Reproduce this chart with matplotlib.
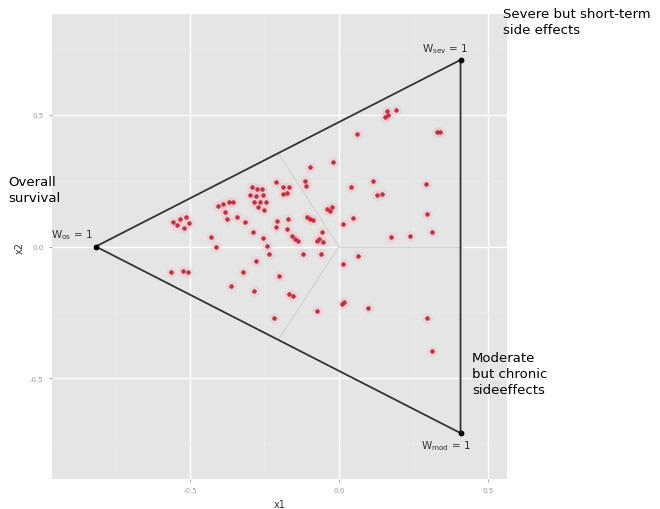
import numpy as np
import matplotlib
matplotlib.use("Agg")
import matplotlib.pyplot as plt

# triangle vertices (equilateral, side sqrt(2))
vert_names = ["os", "sev", "mod"]
vert_x = [-0.816, 0.408, 0.408]
vert_y = [0.0, 0.707, -0.707]

# observed weights projected onto the plane
pts_x = [-0.557, -0.534, -0.513, -0.503, -0.520, -0.544, -0.564, -0.523, -0.507,
         -0.430, -0.413, -0.406, -0.389, -0.369, -0.356, -0.383, -0.376, -0.342,
         -0.315, -0.362, -0.322, -0.285, -0.279, -0.289, -0.255, -0.242, -0.235,
         -0.292, -0.275, -0.258, -0.299, -0.279, -0.255, -0.285, -0.265, -0.245,
         -0.272, -0.252, -0.211, -0.188, -0.168, -0.114, -0.111, -0.097, -0.188,
         -0.174, -0.208, -0.211, -0.171, -0.174, -0.107, -0.097, -0.087, -0.040,
         -0.030, -0.023, 0.013, 0.047, -0.020, -0.158, -0.148, -0.138, -0.057,
         -0.067, -0.054, -0.074, -0.121, -0.060, 0.064, 0.013, -0.201, -0.168,
         -0.154, -0.218, 0.010, 0.017, -0.074, 0.097, 0.295, 0.312, 0.161, 0.164,
         0.154, 0.191, 0.060, 0.329, 0.339, 0.114, 0.040, 0.128, 0.144, 0.292,
         0.295, 0.174, 0.238, 0.312]
pts_y = [0.093, 0.104, 0.112, 0.089, 0.070, 0.081, -0.097, -0.093, -0.097,
         0.036, -0.002, 0.153, 0.161, 0.169, 0.169, 0.131, 0.104, 0.112,
         0.093, -0.150, -0.097, -0.169, -0.055, 0.055, 0.032, 0.002, -0.028,
         0.225, 0.218, 0.218, 0.195, 0.191, 0.195, 0.169, 0.169, 0.169,
         0.150, 0.138, 0.244, 0.225, 0.225, 0.248, 0.229, 0.301, 0.199,
         0.203, 0.097, 0.074, 0.104, 0.066, 0.112, 0.104, 0.100, 0.142,
         0.134, 0.150, 0.085, 0.108, 0.320, 0.040, 0.028, 0.021, 0.055,
         0.028, 0.017, 0.021, -0.028, -0.028, -0.036, -0.066, -0.112, -0.180,
         -0.188, -0.271, -0.218, -0.210, -0.244, -0.233, -0.271, -0.396, 0.513, 0.498,
         0.491, 0.517, 0.426, 0.434, 0.434, 0.248, 0.225, 0.195, 0.199, 0.237,
         0.123, 0.036, 0.040, 0.055]

fig = plt.figure(figsize=(6.6, 5.1), dpi=100)
ax = fig.add_axes([0.0788, 0.0588, 0.6894, 0.9118])
ax.set_facecolor("#e5e5e5")
ax.set_xlim(-0.963, 0.564)
ax.set_ylim(-0.881, 0.881)

ax.set_xticks([-0.5, 0.0, 0.5])
ax.set_yticks([-0.5, 0.0, 0.5])
ax.set_xticks([-0.75, -0.25, 0.25], minor=True)
ax.set_yticks([-0.75, -0.25, 0.25, 0.75], minor=True)
ax.grid(which="major", color="white", lw=1.0)
ax.grid(which="minor", color="#ebebeb", lw=0.5)
ax.set_axisbelow(True)
for s in ax.spines.values():
    s.set_visible(False)
ax.tick_params(which="major", colors="#9a9a9a", labelsize=5, length=2.5, width=0.6)
ax.tick_params(which="minor", length=0)
ax.set_xticklabels(["-0.5", "0.0", "0.5"])
ax.set_yticklabels(["-0.5", "0.0", "0.5"])
ax.set_xlabel("x1", fontsize=7, color="#333333", labelpad=4)
ax.set_ylabel("x2", fontsize=7, color="#333333", labelpad=4)

# faint lines from the centre to the edge midpoints
vx = np.array(vert_x)
vy = np.array(vert_y)
for i, j in [(0, 1), (1, 2), (0, 2)]:
    ax.plot([0, (vx[i] + vx[j]) / 2], [0, (vy[i] + vy[j]) / 2],
            color="#d4d4d4", lw=1.0, zorder=1)

# triangle
ax.plot(list(vx) + [vx[0]], list(vy) + [vy[0]], color="#333333", lw=1.3, zorder=2)
ax.scatter(vx, vy, s=10, color="black", zorder=4)

# points with halo
ax.scatter(pts_x, pts_y, s=60, color="#ffb0bc", alpha=0.3, lw=0, zorder=3)
ax.scatter(pts_x, pts_y, s=7, color="#d42a3a", edgecolor="#8a3040", lw=0.4, zorder=3)

ax.text(vx[0] - 0.01, vy[0] + 0.02, r"$\mathregular{W_{os}}$ = 1", fontsize=7.5,
        color="#333333", ha="right", va="bottom")
ax.text(vx[1] + 0.025, vy[1] + 0.02, r"$\mathregular{W_{sev}}$ = 1", fontsize=7.5,
        color="#333333", ha="right", va="bottom")
ax.text(vx[2] + 0.035, vy[2] - 0.02, r"$\mathregular{W_{mod}}$ = 1", fontsize=7.5,
        color="#333333", ha="right", va="top")

# outer annotations
fig.text(0.762, 0.985, "Severe but short-term\nside effects", fontsize=9.5,
         ha="left", va="top", linespacing=1.3)
fig.text(0.012, 0.655, "Overall\nsurvival", fontsize=9.5, ha="left", va="top",
         linespacing=1.3)
fig.text(0.715, 0.31, "Moderate\nbut chronic\nsideeffects", fontsize=9.5,
         ha="left", va="top", linespacing=1.3)

fig.savefig("out.png", dpi=100)
